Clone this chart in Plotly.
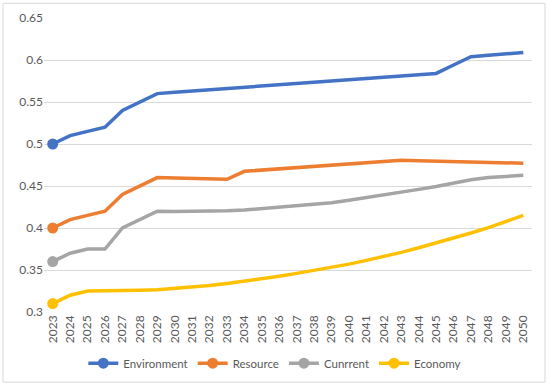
import plotly.graph_objects as go

years = [str(y) for y in range(2023, 2051)]

environment = [0.500, 0.510, 0.515, 0.520, 0.540, 0.550, 0.560, 0.5615, 0.563, 0.5645, 0.566,
               0.5675, 0.569, 0.5705, 0.572, 0.5735, 0.575, 0.5765, 0.578, 0.5795, 0.581,
               0.5825, 0.584, 0.594, 0.604, 0.6057, 0.6073, 0.609]
resource = [0.400, 0.410, 0.415, 0.420, 0.440, 0.450, 0.460, 0.4595, 0.459, 0.4585, 0.458,
            0.4675, 0.469, 0.4705, 0.472, 0.4735, 0.475, 0.4765, 0.478, 0.4795, 0.4807,
            0.4802, 0.4797, 0.4792, 0.4787, 0.4782, 0.4777, 0.4771]
current = [0.360, 0.370, 0.375, 0.375, 0.400, 0.410, 0.420, 0.4195, 0.4197, 0.4200, 0.4205,
           0.4215, 0.423, 0.4245, 0.426, 0.428, 0.430, 0.433, 0.436, 0.439, 0.4425,
           0.446, 0.4495, 0.4535, 0.4575, 0.4600, 0.4615, 0.4628]
economy = [0.310, 0.320, 0.325, 0.325, 0.3252, 0.3258, 0.3265, 0.328, 0.3295, 0.3315, 0.334,
           0.3365, 0.339, 0.3425, 0.346, 0.3495, 0.353, 0.357, 0.3615, 0.366, 0.371,
           0.3765, 0.382, 0.388, 0.394, 0.4005, 0.4075, 0.415]

series = [
    ("Environment", environment, "#4472C4"),
    ("Resource", resource, "#ED7D31"),
    ("Cunrrent", current, "#A5A5A5"),
    ("Economy", economy, "#FFC000"),
]

fig = go.Figure()
for name, vals, color in series:
    fig.add_trace(go.Scatter(
        x=years, y=vals, name=name, mode="lines", showlegend=False,
        line=dict(color=color, width=3.5),
    ))
for name, vals, color in series:
    fig.add_trace(go.Scatter(
        x=years[:1], y=vals[:1], name=name, mode="lines+markers",
        line=dict(color=color, width=3.5),
        marker=dict(color=color, size=11, line=dict(width=0)),
    ))

font = dict(family="Lato, Open Sans, sans-serif", size=12, color="#595959")

fig.update_layout(
    width=550, height=387,
    margin=dict(l=44, r=18, t=18, b=75, autoexpand=False),
    paper_bgcolor="white", plot_bgcolor="white",
    font=font,
    showlegend=True,
    legend=dict(orientation="h", x=0.473, xanchor="center", y=-0.174, yanchor="middle",
                font=dict(family="Lato, Open Sans, sans-serif", size=11.5, color="#595959"),
                itemwidth=30, tracegroupgap=0),
    xaxis=dict(type="category", tickangle=-90, showgrid=False, zeroline=False,
               showline=False, ticks="", range=[-0.5, 27.5], automargin=False,
               tickfont=dict(size=12, color="#595959")),
    yaxis=dict(range=[0.3, 0.65], tickvals=[0.3, 0.35, 0.4, 0.45, 0.5, 0.55, 0.6, 0.65],
               ticktext=["0.3", "0.35", "0.4", "0.45", "0.5", "0.55", "0.6", "0.65"],
               showgrid=True, gridcolor="#D9D9D9", gridwidth=1, zeroline=False,
               showline=False, ticks="", automargin=False,
               tickfont=dict(size=12, color="#595959")),
    shapes=[dict(type="rect", xref="paper", yref="paper",
                 x0=-0.084, x1=1.0266, y0=-0.2386, y1=1.0498,
                 line=dict(color="#D9D9D9", width=1), fillcolor="rgba(0,0,0,0)", layer="below")],
)

fig.write_html("out.html", config={"displayModeBar": False},
               post_script="document.body.style.margin='0';")
